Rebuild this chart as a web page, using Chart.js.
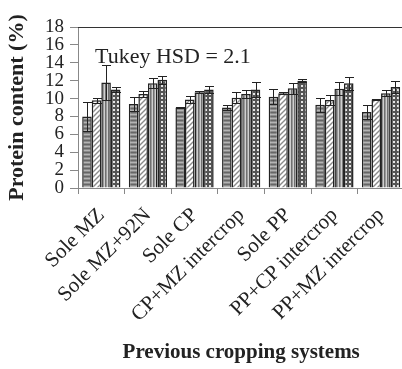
<!DOCTYPE html>
<html>
<head>
<meta charset="utf-8">
<script src="https://cdn.jsdelivr.net/npm/chart.js@4"></script>
<style>
  html, body { margin: 0; padding: 0; background: #fff; overflow: hidden; }
  #wrap { width: 408px; height: 369px; }
</style>
</head>
<body>
<div id="wrap"><canvas id="proteinChart"></canvas></div>
<script>
// Data
const categories = ['Sole MZ', 'Sole MZ+92N', 'Sole CP', 'CP+MZ intercrop', 'Sole PP', 'PP+CP intercrop', 'PP+MZ intercrop'];
const seriesNames = ['Series 1', 'Series 2', 'Series 3', 'Series 4'];
const values1 = [8.0, 9.4, 9.0, 9.0, 10.2, 9.3, 8.5];
const values2 = [9.8, 10.5, 9.9, 10.1, 10.6, 9.85, 9.9];
const values3 = [11.8, 11.7, 10.7, 10.5, 11.15, 11.1, 10.6];
const values4 = [11.0, 12.1, 11.0, 11.0, 12.0, 11.7, 11.3];
const errors1 = [1.65, 0.75, 0.1, 0.25, 0.85, 0.75, 0.8];
const errors2 = [0.3, 0.35, 0.35, 0.6, 0.1, 0.6, 0.1];
const errors3 = [2.0, 0.55, 0.1, 0.45, 0.6, 0.75, 0.35];
const errors4 = [0.3, 0.45, 0.4, 0.8, 0.15, 0.7, 0.65];
const yTicks = [0, 2, 4, 6, 8, 10, 12, 14, 16, 18];
const noteText = 'Tukey HSD = 2.1';

const serif = '"Liberation Serif", "DejaVu Serif", serif';

// Fill patterns for the bars
function makePattern(w, h, draw) {
    const c = document.createElement('canvas');
    c.width = w; c.height = h;
    const g = c.getContext('2d');
    draw(g);
    return g.createPattern(c, 'repeat');
}
const hStripes = makePattern(1, 4, g => {
    g.fillStyle = '#8a8a8a'; g.fillRect(0, 0, 1, 4);
    g.fillStyle = '#666666'; g.fillRect(0, 0, 1, 1);
    g.fillStyle = '#b4b4b4'; g.fillRect(0, 2, 1, 1);
});
const diagonal = makePattern(5, 5, g => {
    g.fillStyle = '#ffffff'; g.fillRect(0, 0, 5, 5);
    g.strokeStyle = '#8a8a8a'; g.lineWidth = 1.4;
    g.beginPath();
    g.moveTo(-1, 6); g.lineTo(6, -1);
    g.moveTo(-1, 1); g.lineTo(1, -1);
    g.moveTo(4, 6); g.lineTo(6, 4);
    g.stroke();
});
const vStripes = makePattern(3, 1, g => {
    g.fillStyle = '#9a9a9a'; g.fillRect(0, 0, 3, 1);
    g.fillStyle = '#707070'; g.fillRect(0, 0, 1, 1);
    g.fillStyle = '#cfcfcf'; g.fillRect(2, 0, 1, 1);
});
const checker = makePattern(4, 4, g => {
    g.fillStyle = '#555555'; g.fillRect(0, 0, 4, 4);
    g.fillStyle = '#e6e6e6'; g.fillRect(1, 1, 2, 2);
});

const allValues = [values1, values2, values3, values4];
const allErrors = [errors1, errors2, errors3, errors4];
const fills = [hStripes, diagonal, vStripes, checker];

// Error bars, top frame line and the HSD note
const extrasPlugin = {
    id: 'extras',
    afterDatasetsDraw(chart) {
        const ctx = chart.ctx;
        const y = chart.scales.y;
        ctx.save();
        ctx.strokeStyle = '#222';
        ctx.lineWidth = 1;
        chart.data.datasets.forEach((ds, di) => {
            const meta = chart.getDatasetMeta(di);
            meta.data.forEach((bar, i) => {
                const v = ds.data[i];
                const e = ds.errors[i];
                const yTop = Math.round(y.getPixelForValue(v + e)) + 0.5;
                const yBot = Math.round(y.getPixelForValue(v - e)) + 0.5;
                const x = Math.round(bar.x) + 0.5;
                const cap = 4.5;
                ctx.beginPath();
                ctx.moveTo(x, yTop); ctx.lineTo(x, yBot);
                ctx.moveTo(x - cap, yTop); ctx.lineTo(x + cap, yTop);
                ctx.moveTo(x - cap, yBot); ctx.lineTo(x + cap, yBot);
                ctx.stroke();
            });
        });
        // top frame line
        const area = chart.chartArea;
        ctx.strokeStyle = '#333';
        ctx.beginPath();
        ctx.moveTo(area.left, Math.round(area.top) + 0.5);
        ctx.lineTo(area.right, Math.round(area.top) + 0.5);
        ctx.stroke();
        // note
        ctx.fillStyle = '#222';
        ctx.font = '22px ' + serif;
        ctx.textBaseline = 'alphabetic';
        ctx.fillText(noteText, area.left + 17, y.getPixelForValue(14));
        ctx.restore();
    }
};

const ctx = document.getElementById('proteinChart').getContext('2d');
new Chart(ctx, {
    type: 'bar',
    data: {
        labels: categories,
        datasets: seriesNames.map((name, k) => ({
            label: name,
            data: allValues[k],
            errors: allErrors[k],
            backgroundColor: fills[k],
            borderColor: '#222',
            borderWidth: 1.5,
            borderSkipped: 'bottom'
        }))
    },
    options: {
        responsive: true,
        maintainAspectRatio: false,
        animation: false,
        layout: { padding: { top: 27, right: 2, left: 0, bottom: 0 } },
        plugins: {
            legend: { display: false },
            tooltip: { enabled: false }
        },
        datasets: {
            bar: { categoryPercentage: 0.82, barPercentage: 1.0 }
        },
        scales: {
            x: {
                grid: { drawOnChartArea: false, drawTicks: true, tickLength: 6, color: '#888', offset: true },
                border: { color: '#888', width: 1 },
                ticks: {
                    color: '#222',
                    font: { family: serif, size: 21 },
                    minRotation: 45,
                    maxRotation: 45,
                    autoSkip: false,
                    padding: 9
                },
                title: {
                    display: true,
                    text: 'Previous cropping systems',
                    color: '#222',
                    font: { family: serif, size: 21, weight: 'bold' }
                },
                afterFit(scale) { scale.height = 181; }
            },
            y: {
                min: 0,
                max: 18,
                afterBuildTicks(scale) { scale.ticks = yTicks.map(v => ({ value: v })); },
                grid: { drawOnChartArea: false, drawTicks: true, tickLength: 8, color: '#888' },
                border: { color: '#888', width: 1 },
                ticks: {
                    color: '#222',
                    font: { family: serif, size: 19 },
                    autoSkip: false,
                    padding: 6
                },
                title: {
                    display: true,
                    text: 'Protein content (%)',
                    color: '#222',
                    font: { family: serif, size: 22, weight: 'bold' }
                },
                afterFit(scale) { scale.width = 78; }
            }
        }
    },
    plugins: [extrasPlugin]
});
</script>
</body>
</html>
